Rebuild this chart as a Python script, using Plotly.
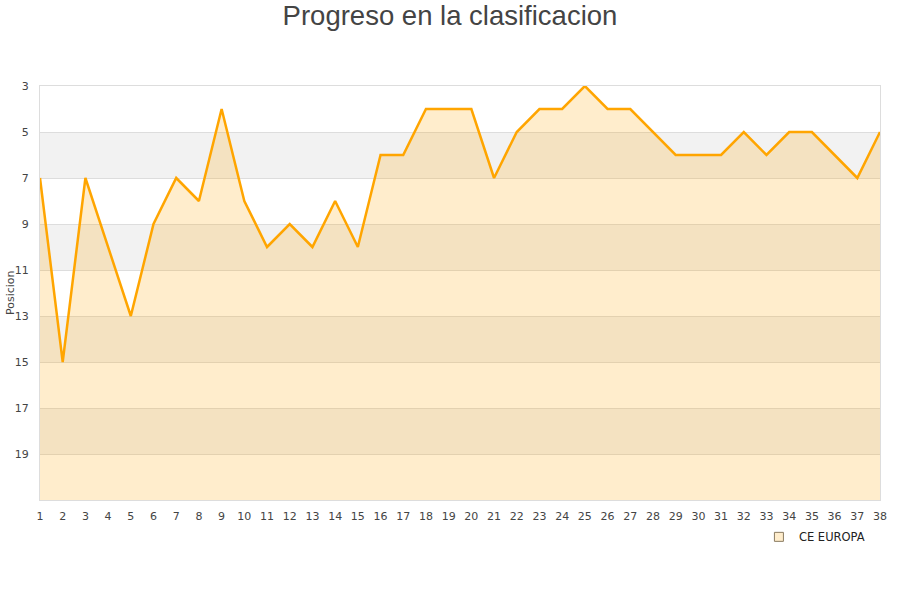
import plotly.graph_objects as go

jornadas = list(range(1, 39))
posiciones = [7, 15, 7, 10, 13, 9, 7, 8, 4, 8, 10, 9, 10, 8, 10, 6, 6, 4, 4, 4,
              7, 5, 4, 4, 3, 4, 4, 5, 6, 6, 6, 5, 6, 5, 5, 6, 7, 5]
y_ticks = [3, 5, 7, 9, 11, 13, 15, 17, 19]
bandas_grises = [(5, 7), (9, 11), (13, 15), (17, 19)]
equipo = "CE EUROPA"
fondo = 21

fig = go.Figure()
fig.add_trace(go.Scatter(x=jornadas, y=[fondo] * len(jornadas), mode="lines",
                         line=dict(width=0), showlegend=False, hoverinfo="skip"))
fig.add_trace(go.Scatter(x=jornadas, y=posiciones, mode="lines",
                         line=dict(color="#FFA500", width=2.5),
                         fill="tonexty", fillcolor="rgba(255,165,0,0.2)",
                         showlegend=False, name=equipo))
fig.add_trace(go.Scatter(x=[None], y=[None], mode="markers", name=equipo,
                         marker=dict(symbol="square", size=9, color="#FFEDCC",
                                     line=dict(color="#8a7a60", width=1))))

shapes = []
for a, b in bandas_grises:
    shapes.append(dict(type="rect", xref="paper", yref="y", x0=0, x1=1, y0=a, y1=b,
                       fillcolor="#F2F2F2", line=dict(width=0), layer="below"))

fig.update_layout(
    width=900, height=600,
    margin=dict(l=40, r=20, t=86, b=100, autoexpand=False),
    paper_bgcolor="white", plot_bgcolor="white",
    title=dict(text="Progreso en la clasificacion", x=0.5, xanchor="center", xref="container",
               y=1 - 15 / 600, yanchor="middle", yref="container",
               font=dict(family="Liberation Sans, Arial, sans-serif", size=27.5, color="#444")),
    font=dict(family="DejaVu Sans, sans-serif", size=11, color="#444"),
    shapes=shapes,
    annotations=[dict(text="Posicion", xref="paper", yref="paper", x=-30 / 840, y=0.5,
                      xanchor="center", yanchor="middle", textangle=-90, showarrow=False,
                      font=dict(size=11, color="#444"))],
    showlegend=True,
    legend=dict(orientation="h", x=0.988, xanchor="right", y=-0.089, yanchor="middle",
                font=dict(size=11.5, color="#222"), bgcolor="rgba(0,0,0,0)"),
    xaxis=dict(range=[1, 38], tickmode="array", tickvals=jornadas, automargin=False,
               ticktext=[str(j) for j in jornadas], showgrid=False, zeroline=False,
               showline=True, mirror=True, linecolor="#DDDDDD", linewidth=1,
               ticks="", ticklabelstandoff=6, tickfont=dict(size=11, color="#444")),
    yaxis=dict(range=[fondo, 3], tickmode="array", tickvals=y_ticks, automargin=False,
               showgrid=True, gridcolor="#DDDDDD", gridwidth=1, zeroline=False,
               showline=True, mirror=True, linecolor="#DDDDDD", linewidth=1,
               ticks="", ticklabelstandoff=8,
               tickfont=dict(size=11, color="#444")),
)

fig.write_html("out.html", post_script="document.body.style.margin='0';",
               config={"displayModeBar": False})
